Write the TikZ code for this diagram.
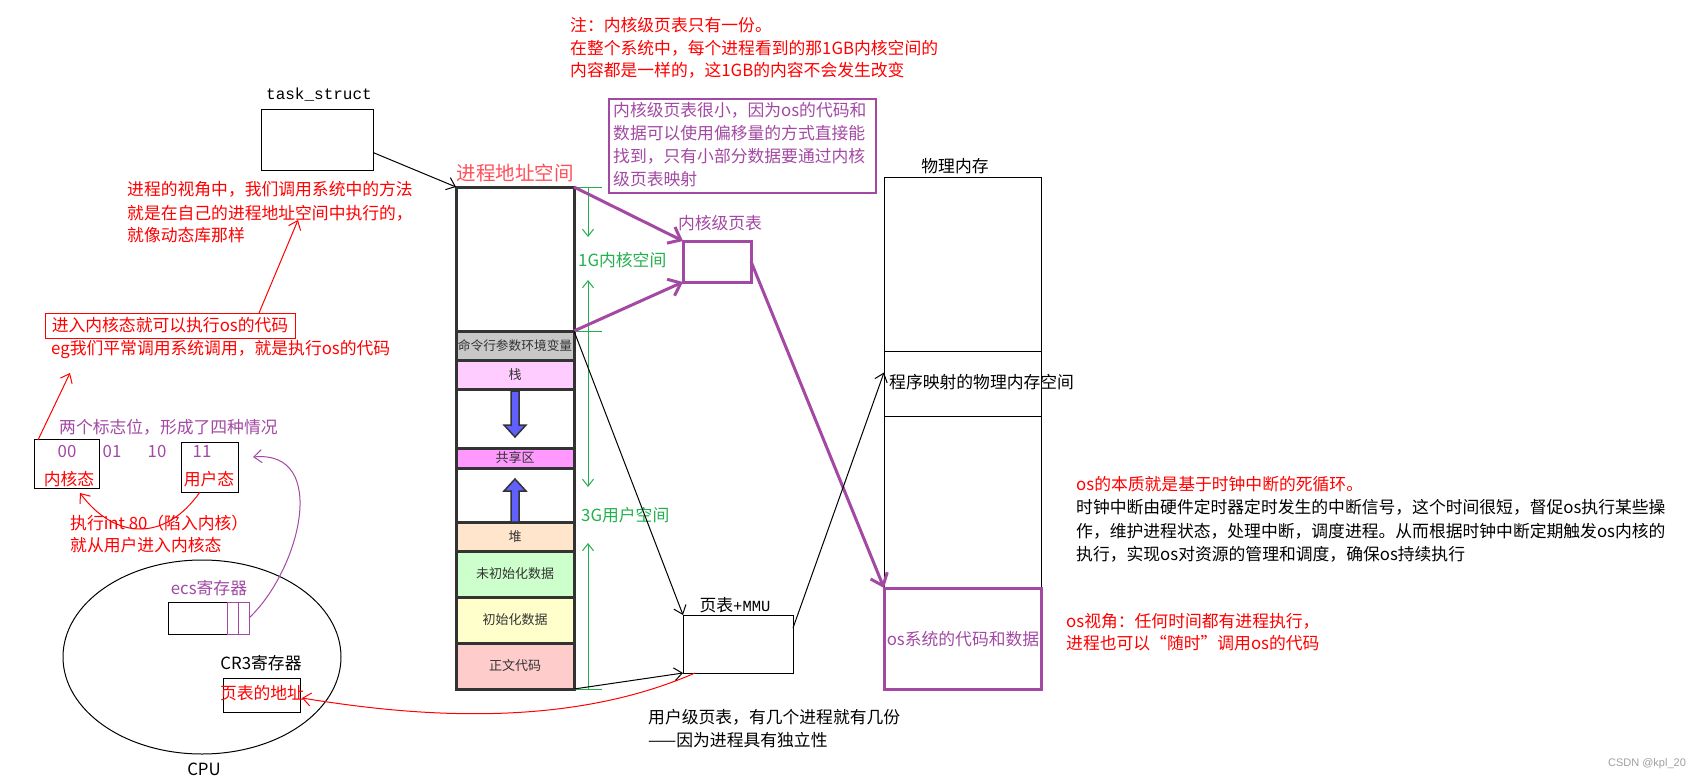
\documentclass[tikz,border=0pt]{standalone}
\usepackage{fontspec}
\setmainfont{Liberation Sans}
\newfontfamily\cjk{Noto Sans CJK SC}
\newfontfamily\monof{Liberation Mono}
\usetikzlibrary{arrows.meta,calc,shapes.geometric}
\definecolor{tred}{RGB}{255,0,0}
\definecolor{ppl}{RGB}{163,73,164}
\definecolor{grn}{RGB}{34,177,76}
\definecolor{ttl}{RGB}{255,80,90}
\definecolor{colline}{RGB}{51,51,51}
\definecolor{segtxt}{RGB}{51,51,51}
\definecolor{cmdc}{RGB}{200,200,200}
\definecolor{stkc}{RGB}{255,204,255}
\definecolor{shrc}{RGB}{255,153,255}
\definecolor{heapc}{RGB}{255,229,204}
\definecolor{bssc}{RGB}{204,255,204}
\definecolor{datc}{RGB}{255,255,204}
\definecolor{txtc}{RGB}{255,204,204}
\definecolor{arrblue}{RGB}{96,96,255}
\definecolor{wm}{RGB}{160,160,160}
\tikzset{
  cj/.style={font=\cjk\fontsize{16.8}{20}\selectfont, inner sep=0pt, anchor=west},
  box/.style={draw=black, line width=1pt, inner sep=0pt, outer sep=0pt, anchor=north west},
  pbx/.style={draw=ppl, line width=3pt, inner sep=0pt, outer sep=0pt, anchor=north west},
  seg/.style={draw=colline, line width=3pt, minimum width=118pt, inner sep=0pt, outer sep=0pt, anchor=north west, font=\cjk\fontsize{13}{15}\selectfont, text=segtxt},
  btip/.style={-{Straight Barb[length=8pt,width=13pt]}},
  ptip/.style={-{Straight Barb[length=11pt,width=18pt]}},
  gtip/.style={-{Straight Barb[length=7pt,width=11pt]}},
  bluearr/.style={fill=arrblue, draw=colline, line width=1.5pt, line join=miter},
  gline/.style={draw=grn, line width=1pt},
}
\begin{document}
\begin{tikzpicture}[x=1pt,y=-1pt]
\useasboundingbox[fill=white] (0,0) rectangle (1701,779);

% ---------- top note ----------
\node[cj, text=tred] (n1) at (570,25) {注：内核级页表只有一份。};
\node[cj, text=tred] (n2) at (570,48) {在整个系统中，每个进程看到的那1GB内核空间的};
\node[cj, text=tred] (n3) at (570,70) {内容都是一样的，这1GB的内容不会发生改变};

% ---------- task_struct ----------
\node[font=\monof\fontsize{16}{18}\selectfont, inner sep=0pt] (tsl) at (319,95) {task\_struct};
\node[box, minimum width=112pt, minimum height=61pt] (ts) at (261,109) {};

% ---------- address space column ----------
\node[font=\cjk\fontsize{19.5}{22}\selectfont, text=ttl, inner sep=0pt] (asl) at (515,173) {进程地址空间};
\node[seg, minimum height=144pt, fill=white] (ks) at (456,187) {};
\node[seg, minimum height=29pt, fill=cmdc, font=\cjk\fontsize{12.7}{15}\selectfont] (cmd) at (456,331) {命令行参数环境变量};
\node[seg, minimum height=29pt, fill=stkc] (stk) at (456,360) {栈};
\node[seg, minimum height=59pt, fill=white] (g1) at (456,389) {};
\node[seg, minimum height=20pt, fill=shrc] (shr) at (456,448) {共享区};
\node[seg, minimum height=54pt, fill=white] (g2) at (456,468) {};
\node[seg, minimum height=29pt, fill=heapc] (heap) at (456,522) {堆};
\node[seg, minimum height=46pt, fill=bssc] (bss) at (456,551) {未初始化数据};
\node[seg, minimum height=46pt, fill=datc] (dat) at (456,597) {初始化数据};
\node[seg, minimum height=46pt, fill=txtc] (txt) at (456,643) {正文代码};

% blue growth arrows
\draw[bluearr] (511,391) -- (519,391) -- (519,425) -- (526,425) -- (515,437) -- (504,425) -- (511,425) -- cycle;
\draw[bluearr] (511,522) -- (519,522) -- (519,491) -- (526,491) -- (515,479) -- (504,491) -- (511,491) -- cycle;

% arrow from task_struct
\draw[line width=1pt, btip] ($(ts.east)+(0,13)$) -- (ks.north west);

% green dimension marks
\draw[gline] (ks.north east) -- ++(28,0);
\draw[gline] (ks.south east) -- ++(28,0);
\draw[gline] (txt.south east) -- ++(28,0);
\draw[gline, gtip] ($(ks.north east)+(14,0)$) -- ++(0,50);
\draw[gline, gtip] ($(ks.south east)+(14,0)$) -- ++(0,-51);
\draw[gline, gtip] ($(ks.south east)+(14,0)$) -- ++(0,156);
\draw[gline, gtip] ($(txt.south east)+(14,0)$) -- ++(0,-146);
\node[cj, text=grn] (g1l) at (578,260) {1G内核空间};
\node[cj, text=grn] (g3l) at (581,515) {3G用户空间};

% ---------- kernel page table ----------
\node[draw=ppl, line width=1.5pt, minimum width=267pt, minimum height=94pt, inner sep=0pt, outer sep=0pt, anchor=north west] (pbox) at (609,99) {};
\node[cj, text=ppl] (p1) at (613,110) {内核级页表很小，因为os的代码和};
\node[cj, text=ppl] (p2) at (613,133) {数据可以使用偏移量的方式直接能};
\node[cj, text=ppl] (p3) at (613,156) {找到，只有小部分数据要通过内核};
\node[cj, text=ppl] (p4) at (613,179) {级页表映射};

\node[cj, anchor=center, text=ppl] (kptl) at (720,223) {内核级页表};
\node[pbx, minimum width=68pt, minimum height=41pt] (kpt) at (683,241) {};

% ---------- user page table + MMU ----------
\node[inner sep=0pt] (ptl) at (735,605) {{\cjk\fontsize{16.8}{20}\selectfont 页表}{\monof\fontsize{15.5}{18}\selectfont +MMU}};
\node[box, minimum width=110pt, minimum height=58pt] (pt) at (683,615) {};
\node[cj] (u1) at (648,717) {用户级页表，有几个进程就有几份};
\node[cj] (u2) at (648,740) {——因为进程具有独立性};

% ---------- physical memory ----------
\node[cj, anchor=center] (pml) at (955,166) {物理内存};
\node[box, minimum width=157pt, minimum height=174pt] (pm1) at (884,177) {};
\node[box, minimum width=157pt, minimum height=65pt] (pm2) at (884,351) {};
\node[box, minimum width=157pt, minimum height=172pt] (pm3) at (884,416) {};
\node[cj] (pm2t) at (889,382) {程序映射的物理内存空间};
\node[pbx, minimum width=157pt, minimum height=101pt] (osb) at (884,588) {};
\node[cj, anchor=center, text=ppl] (osbt) at (963,639) {os系统的代码和数据};

% connectors (mapping)
\draw[ppl, line width=3pt, ptip] (ks.north east) -- (kpt.north west);
\draw[ppl, line width=3pt, ptip] (ks.south east) -- (kpt.south west);
\draw[ppl, line width=3pt, ptip] (kpt.east) -- (osb.north west);
\draw[line width=1pt, btip] (ks.south east) -- (pt.north west);
\draw[line width=1pt, btip] (txt.south east) -- (pt.south west);
\draw[line width=1pt, btip] ($(pt.east)+(0,-16)$) -- ($(pm2.west)+(0,-11)$);

% ---------- right texts ----------
\node[cj, text=tred] (r1) at (1076,484) {os的本质就是基于时钟中断的死循环。};
\node[cj] (r2) at (1076,507) {时钟中断由硬件定时器定时发生的中断信号，这个时间很短，督促os执行某些操};
\node[cj] (r3) at (1076,531) {作，维护进程状态，处理中断，调度进程。从而根据时钟中断定期触发os内核的};
\node[cj] (r4) at (1076,554) {执行，实现os对资源的管理和调度，确保os持续执行};
\node[cj, text=tred] (v1) at (1066,621) {os视角：任何时间都有进程执行，};
\node[cj, text=tred] (v2) at (1066,643) {进程也可以“随时”调用os的代码};

\node[font=\fontsize{11}{13}\selectfont, text=wm, inner sep=0pt] (wmk) at (1647,764) {CSDN @kpl\_20};

% ---------- left side ----------
\node[cj, text=tred] (l1) at (127,189) {进程的视角中，我们调用系统中的方法};
\node[cj, text=tred] (l2) at (127,213) {就是在自己的进程地址空间中执行的，};
\node[cj, text=tred] (l3) at (127,235) {就像动态库那样};

\node[draw=tred, line width=1pt, minimum width=250pt, minimum height=25pt, inner sep=0pt, outer sep=0pt, anchor=north west, text=tred, font=\cjk\fontsize{16.8}{20}\selectfont] (kbox) at (45,313) {进入内核态就可以执行os的代码};
\node[cj, text=tred] (eg) at (51,350) {eg我们平常调用系统调用，就是执行os的代码};
\coordinate (r2tip) at (298,220);
\draw[tred, line width=1pt, btip] ($(kbox.north west)+(214,0)$) -- (r2tip);

\node[cj, text=ppl] (flag) at (59,427) {两个标志位，形成了四种情况};
\node[box, minimum width=65pt, minimum height=49pt] (kn) at (34,439) {};
\node[box, minimum width=57pt, minimum height=50pt] (usr) at (181,442) {};
\node[cj, anchor=center, text=ppl] (b00) at (67,452) {00};
\node[cj, anchor=center, text=ppl] (b01) at (112,452) {01};
\node[cj, anchor=center, text=ppl] (b10) at (157,452) {10};
\node[cj, anchor=center, text=ppl] (b11) at (202,452) {11};
\node[cj, anchor=center, text=tred] (knt) at (69,479) {内核态};
\node[cj, anchor=center, text=tred] (usrt) at (209,479) {用户态};
\coordinate (egtip) at (70,373);
\draw[tred, line width=1pt, btip] ($(kn.north west)+(4,1)$) -- (egtip);
\draw[tred, line width=1pt, btip] ($(usr.south west)+(19,0)$) .. controls (165,542) and (115,540) .. ($(kn.south west)+(46,5)$);
\node[cj, text=tred] (int1) at (70,523) {执行int 80（陷入内核）};
\node[cj, text=tred] (int2) at (70,545) {就从用户进入内核态};

% CPU
\node[draw=black, line width=1pt, ellipse, minimum width=278pt, minimum height=194pt, inner sep=0pt] (cpu) at (202,657) {};
\node[cj, anchor=center] (cpul) at (204,769) {CPU};
\node[cj, anchor=center, text=ppl] (ecsl) at (209,588) {ecs寄存器};
\node[box, minimum width=59pt, minimum height=32pt] (ecs) at (168,602) {};
\node[box, draw=ppl, minimum width=11pt, minimum height=32pt] (c1) at (227,602) {};
\node[box, draw=ppl, minimum width=11pt, minimum height=32pt] (c2) at (238,602) {};
\coordinate (ecstip) at (253,457);
\draw[ppl, line width=1pt, btip] (c2.east) .. controls (300,570) and (330,450) .. (ecstip);
\node[cj, anchor=center] (cr3l) at (261,663) {CR3寄存器};
\node[box, minimum width=77pt, minimum height=34pt] (cr3) at (223,678) {};
\node[cj, anchor=center, text=tred] (cr3t) at (262,693) {页表的地址};
\draw[tred, line width=1pt, btip] ($(pt.south west)+(12,0)$) .. controls (560,732) and (400,714) .. ($(cr3.east)+(2,3)$);
\end{tikzpicture}
\end{document}
